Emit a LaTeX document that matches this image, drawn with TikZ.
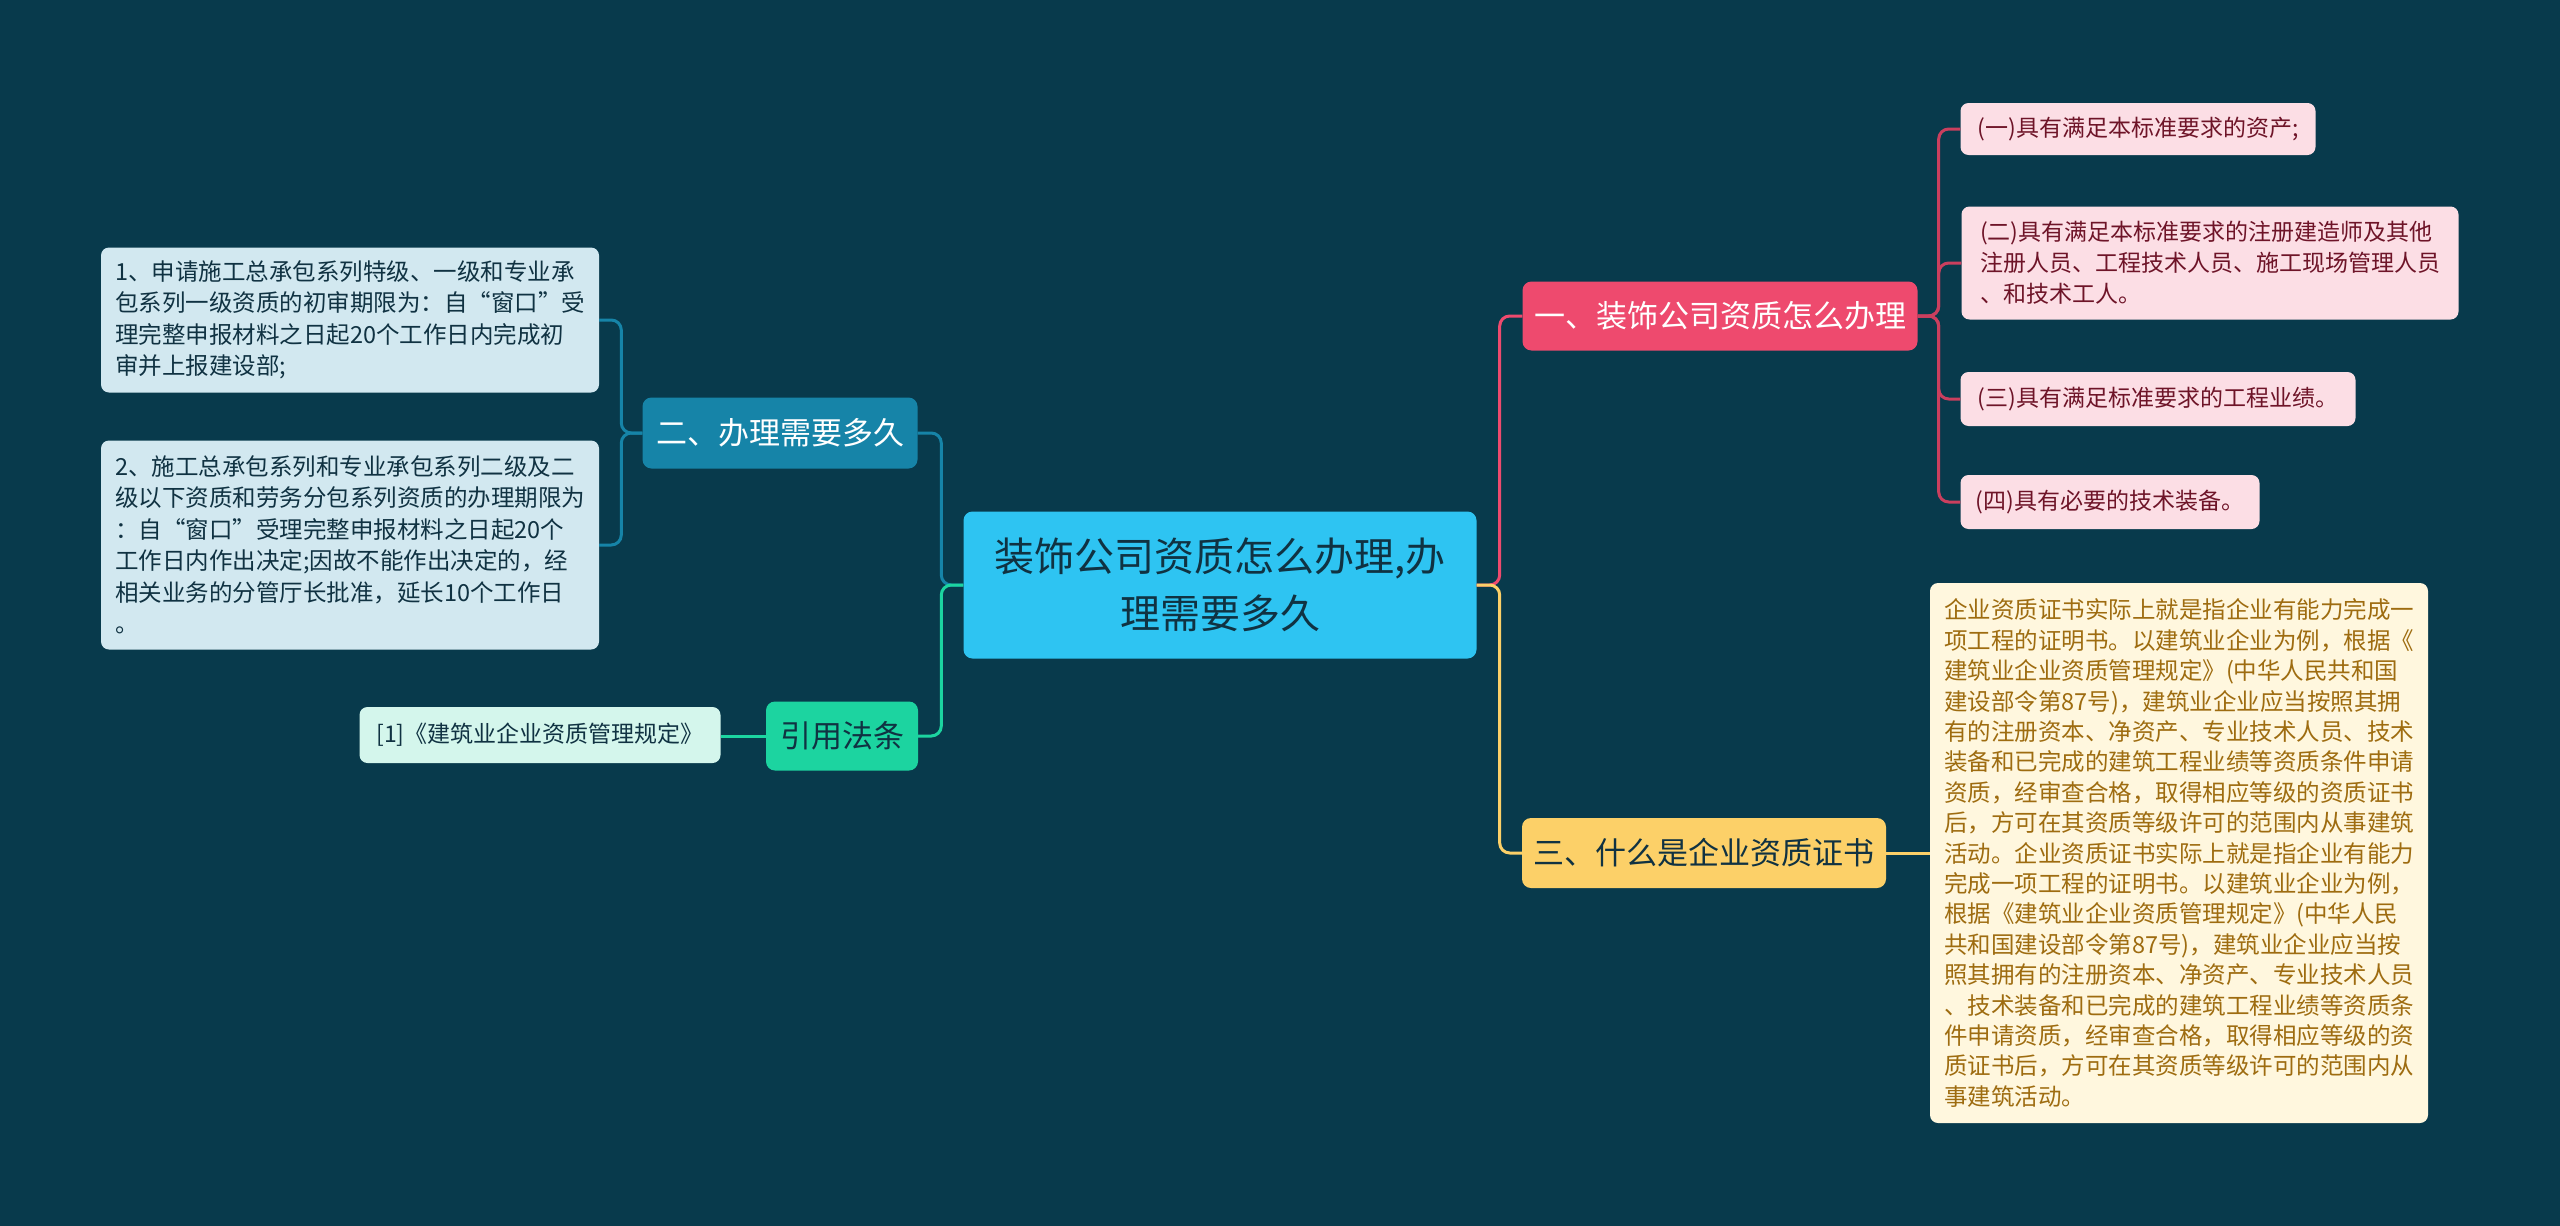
\documentclass[tikz,border=0pt]{standalone}
\usepackage{fontspec}
\setmainfont{Noto Sans CJK SC}
\usetikzlibrary{positioning}

\definecolor{bg}{RGB}{8,58,76}
\definecolor{rootfill}{RGB}{46,196,242}
\definecolor{roottext}{RGB}{16,50,66}
\definecolor{redfill}{RGB}{238,74,110}
\definecolor{redleaf}{RGB}{252,222,229}
\definecolor{redtext}{RGB}{110,20,40}
\definecolor{yelfill}{RGB}{252,208,104}
\definecolor{yelleaf}{RGB}{255,247,222}
\definecolor{yeltext}{RGB}{158,108,16}
\definecolor{bluefill}{RGB}{22,132,168}
\definecolor{blueleaf}{RGB}{210,232,240}
\definecolor{greenfill}{RGB}{28,212,160}
\definecolor{greenleaf}{RGB}{212,246,236}

\tikzset{
  topic/.style={rounded corners=9pt, inner sep=0pt, align=center,
    font=\fontsize{31}{40}\selectfont},
  leaf/.style={rounded corners=8pt, inner sep=0pt, align=left,
    font=\fontsize{23}{31}\selectfont},
  link/.style={line width=3pt, rounded corners=10pt}
}

\begin{document}
\begin{tikzpicture}[x=1pt,y=-1pt]
    % background and page size
    \fill[bg] (0,0) rectangle (2560,1226);
    \useasboundingbox (0,0) rectangle (2560,1226);

    % central topic
    \node[topic, fill=rootfill, text=roottext, minimum width=513pt, minimum height=147pt,
          font=\fontsize{40}{57}\selectfont] (root) at (1220,585)
        {装饰公司资质怎么办理,办\\理需要多久};

    % main branches
    \node[topic, fill=redfill, text=white, minimum width=395pt, minimum height=69pt]
        (sec1) at (1720,316) {一、装饰公司资质怎么办理};
    \node[topic, fill=yelfill, text=roottext, minimum width=364pt, minimum height=70pt]
        (sec3) at (1704,853) {三、什么是企业资质证书};
    \node[topic, fill=bluefill, text=white, minimum width=275pt, minimum height=71pt]
        (sec2) at (780,433) {二、办理需要多久};
    \node[topic, fill=greenfill, text=roottext, minimum width=152pt, minimum height=69pt]
        (law) at (842,736) {引用法条};

    % leaves of section one
    \node[leaf, fill=redleaf, text=redtext, minimum width=355pt, minimum height=52pt]
        (a1) at (2138,129) {(一)具有满足本标准要求的资产;};
    \node[leaf, fill=redleaf, text=redtext, minimum width=497pt, minimum height=113pt]
        (a2) at (2210,263) {(二)具有满足本标准要求的注册建造师及其他\\注册人员、工程技术人员、施工现场管理人员\\、和技术工人。};
    \node[leaf, fill=redleaf, text=redtext, minimum width=395pt, minimum height=54pt]
        (a3) at (2158,399) {(三)具有满足标准要求的工程业绩。};
    \node[leaf, fill=redleaf, text=redtext, minimum width=299pt, minimum height=54pt]
        (a4) at (2110,502) {(四)具有必要的技术装备。};

    % leaf of section three
    \node[leaf, fill=yelleaf, text=yeltext, minimum width=498pt, minimum height=540pt,
          font=\fontsize{23.5}{30.4}\selectfont] (c1) at (2179,853)
        {企业资质证书实际上就是指企业有能力完成一\\项工程的证明书。以建筑业企业为例，根据《\\建筑业企业资质管理规定》(中华人民共和国\\建设部令第87号)，建筑业企业应当按照其拥\\有的注册资本、净资产、专业技术人员、技术\\装备和已完成的建筑工程业绩等资质条件申请\\资质，经审查合格，取得相应等级的资质证书\\后，方可在其资质等级许可的范围内从事建筑\\活动。企业资质证书实际上就是指企业有能力\\完成一项工程的证明书。以建筑业企业为例，\\根据《建筑业企业资质管理规定》(中华人民\\共和国建设部令第87号)，建筑业企业应当按\\照其拥有的注册资本、净资产、专业技术人员\\、技术装备和已完成的建筑工程业绩等资质条\\件申请资质，经审查合格，取得相应等级的资\\质证书后，方可在其资质等级许可的范围内从\\事建筑活动。};

    % leaves of section two
    \node[leaf, fill=blueleaf, text=roottext, minimum width=498pt, minimum height=145pt,
          font=\fontsize{23.5}{31.5}\selectfont] (b1) at (350,320)
        {1、申请施工总承包系列特级、一级和专业承\\包系列一级资质的初审期限为：自“窗口”受\\理完整申报材料之日起20个工作日内完成初\\审并上报建设部;};
    \node[leaf, fill=blueleaf, text=roottext, minimum width=498pt, minimum height=209pt,
          font=\fontsize{23.5}{31.5}\selectfont] (b2) at (350,545)
        {2、施工总承包系列和专业承包系列二级及二\\级以下资质和劳务分包系列资质的办理期限为\\：自“窗口”受理完整申报材料之日起20个\\工作日内作出决定;因故不能作出决定的，经\\相关业务的分管厅长批准，延长10个工作日\\。};

    % leaf of the law branch
    \node[leaf, fill=greenleaf, text=roottext, minimum width=361pt, minimum height=56pt]
        (l1) at (540,735) {[1]《建筑业企业资质管理规定》};

    % connectors from the centre
    \draw[link, redfill] (root.east) -- ++(23,0) |- (sec1.west);
    \draw[link, yelfill] (root.east) -- ++(23,0) |- (sec3.west);
    \draw[link, bluefill] (root.west) -- ++(-22,0) |- (sec2.east);
    \draw[link, greenfill] (root.west) -- ++(-22,0) |- (law.east);

    % connectors to the leaves
    \foreach \n in {a1,a2,a3,a4}
        \draw[link, redfill!85!black] (sec1.east) -- ++(21,0) |- (\n.west);
    \foreach \n in {b1,b2}
        \draw[link, bluefill] (sec2.west) -- ++(-21,0) |- (\n.east);
    \draw[link, yelfill] (sec3.east) -- (c1.west |- sec3.east);
    \draw[link, greenfill] (law.west) -- (l1.east |- law.west);
\end{tikzpicture}
\end{document}
